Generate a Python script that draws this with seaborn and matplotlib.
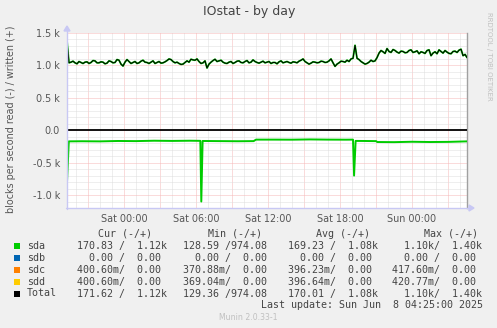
import numpy as np
import pandas as pd
import matplotlib
matplotlib.use("Agg")
import matplotlib.pyplot as plt
import seaborn as sns
from matplotlib.patches import Rectangle, Polygon
from matplotlib.lines import Line2D

# ---------------- data ----------------
# written (+) blocks/s for sda / Total, one sample every 10 min starting Fri 19:15 (hours rel. Sat 00:00)
write_start = -4.75
write_step = 1.0 / 6.0
write_values = [
    1380, 1040, 1050, 1065, 1040, 1025, 1060, 1045, 1030, 1050,
    1055, 1030, 1045, 1075, 1070, 1040, 1040, 1055, 1050, 1025,
    1035, 1070, 1060, 1040, 1045, 1090, 1080, 1020, 990, 1050,
    1090, 1060, 1030, 1045, 1060, 1030, 1040, 1065, 1080, 1050,
    1045, 1030, 1050, 1070, 1030, 1045, 1060, 1035, 1040, 1055,
    1075, 1100, 1090, 1060, 1040, 1050, 1030, 1015, 1020, 1045,
    1070, 1050, 1095, 1085, 1080, 1100, 1060, 1030, 1040, 1070,
    960, 1020, 1050, 1075, 1095, 1060, 1070, 1080, 1050, 1035,
    1030, 1050, 1060, 1030, 1045, 1065, 1070, 1045, 1040, 1060,
    1075, 1040, 1050, 1085, 1060, 1045, 1035, 1050, 1065, 1040,
    1050, 1060, 1030, 1045, 1045, 1025, 1055, 1070, 1040, 1050,
    1060, 1045, 1035, 1055, 1050, 1040, 1065, 1080, 1100, 1060,
    1040, 1020, 1035, 1055, 1050, 1040, 1045, 1065, 1060, 1045,
    1050, 1070, 1100, 1040, 985, 1020, 1040, 1065, 1060, 1050,
    1080, 1060, 1100, 1110, 1310, 1110, 1090, 1060, 1040, 1020,
    1030, 1050, 1080, 1060, 1070, 1120, 1190, 1230, 1210, 1185,
    1260, 1215, 1200, 1245, 1230, 1205, 1190, 1220, 1215, 1195,
    1200, 1230, 1240, 1200, 1210, 1225, 1180, 1210, 1200, 1185,
    1230, 1240, 1150, 1190, 1210, 1180, 1240, 1215, 1190, 1230,
    1205, 1185, 1180, 1215, 1220, 1200, 1235, 1250, 1150, 1170,
    1120,
]
# read (-) blocks/s for sda
read_hours = [-4.75, -4.6, -3.5, -2.0, -0.5, 1.0, 2.5, 4.0, 5.5, 6.36, 6.44, 6.55,
              8.0, 9.5, 10.8, 11.0, 12.5, 14.0, 15.5, 17.0, 18.5, 19.08, 19.17, 19.3,
              20.0, 21.0, 21.1, 22.5, 24.0, 25.5, 27.0, 28.58]
read_values = [-800, -172, -170, -172, -166, -168, -162, -165, -162, -164, -1100, -166,
               -168, -170, -168, -145, -145, -146, -142, -145, -146, -145, -700, -165,
               -166, -168, -182, -184, -178, -182, -180, -172]

xtick_hours = [0, 6, 12, 18, 24]
xtick_labels = ["Sat 00:00", "Sat 06:00", "Sat 12:00", "Sat 18:00", "Sun 00:00"]
ytick_values = [-1000, -500, 0, 500, 1000, 1500]
ytick_labels = ["-1.0 k", "-0.5 k", "0.0", "0.5 k", "1.0 k", "1.5 k"]

legend_names = ["sda", "sdb", "sdc", "sdd", "Total"]
legend_colors = ["#00CC00", "#0066B3", "#FF8000", "#FFCC00", "#000000"]
col_headers = ["Cur (-/+)", "Min (-/+)", "Avg (-/+)", "Max (-/+)"]
col_cur = ["170.83 /  1.12k", "  0.00 /  0.00", "400.60m/  0.00", "400.60m/  0.00", "171.62 /  1.12k"]
col_min = ["128.59 /974.08", "  0.00 /  0.00", "370.88m/  0.00", "369.04m/  0.00", "129.36 /974.08"]
col_avg = ["169.23 /  1.08k", "  0.00 /  0.00", "396.23m/  0.00", "396.64m/  0.00", "170.01 /  1.08k"]
col_max = ["  1.10k/  1.40k", "  0.00 /  0.00", "417.60m/  0.00", "420.77m/  0.00", "  1.10k/  1.40k"]

# ---------------- figure ----------------
W, H = 497, 328
sns.set_style("white")
plt.rcParams['font.family'] = ['DejaVu Sans']

fig = plt.figure(figsize=(W / 100, H / 100), dpi=100, facecolor='#F0F0F0')
L, R, T, B = 67, 467, 33, 208
ax = fig.add_axes([L / W, 1 - B / H, (R - L) / W, (B - T) / H])
ax.set_facecolor('white')

xmin, xmax = -4.75, 28.58
ymin, ymax = -1200, 1500
ax.set_xlim(xmin, xmax)
ax.set_ylim(ymin, ymax)

dot = (0, (1, 1))
for h in range(-4, 29):
    major = (h % 3 == 0)
    ax.axvline(h, color='#F6B8B8' if major else '#DEDEDE', lw=0.72, ls=dot, zorder=0)
for v in range(-1200, 1501, 100):
    major = (v % 500 == 0)
    ax.axhline(v, color='#F6B8B8' if major else '#DEDEDE', lw=0.72, ls=dot, zorder=0)

write_df = pd.DataFrame({
    "hour": write_start + write_step * np.arange(len(write_values)),
    "value": write_values,
})
read_df = pd.DataFrame({"hour": read_hours, "value": read_values})

sns.lineplot(data=read_df, x="hour", y="value", ax=ax, color="#00CC00", lw=1.4,
             estimator=None, sort=False, zorder=3)
sns.lineplot(data=write_df, x="hour", y="value", ax=ax, color="#00CC00", lw=1.3,
             estimator=None, sort=False, zorder=3)
sns.lineplot(data=write_df, x="hour", y="value", ax=ax, color="#000000", lw=0.75,
             estimator=None, sort=False, zorder=4)
ax.axhline(0, color='black', lw=1.3, zorder=5)

ax.set_xlabel("")
ax.set_ylabel("")
ax.set_xticks(xtick_hours)
ax.set_xticklabels(xtick_labels)
ax.set_yticks(ytick_values)
ax.set_yticklabels(ytick_labels)
ax.tick_params(axis='both', length=0, labelsize=6.9, labelcolor='#555555')
ax.tick_params(axis='x', pad=4)
ax.tick_params(axis='y', pad=5)

for s in ['top', 'left', 'bottom']:
    ax.spines[s].set_visible(False)
ax.spines['right'].set_color('#A0A0A0')
ax.spines['right'].set_linewidth(1.0)

# axis lines with arrows (figure pixel coords -> fraction)
def fx(x):
    return x / W
def fy(y):
    return 1 - y / H
axis_col = '#C8C8F4'
fig.add_artist(Line2D([fx(L), fx(L)], [fy(B + 1), fy(30)], color=axis_col, lw=1.0))
fig.add_artist(Line2D([fx(L - 1), fx(470)], [fy(B), fy(B)], color=axis_col, lw=1.0))
fig.add_artist(Polygon([[fx(L - 3), fy(31)], [fx(L + 3), fy(31)], [fx(L), fy(26)]],
                       closed=True, color=axis_col, transform=fig.transFigure))
fig.add_artist(Polygon([[fx(469), fy(B - 3)], [fx(469), fy(B + 3)], [fx(474), fy(B)]],
                       closed=True, color=axis_col, transform=fig.transFigure))

# title and side texts
fig.text(fx(249), fy(12), "IOstat - by day", ha='center', va='center', fontsize=9,
         color='#444444')
fig.text(fx(11), fy(119), "blocks per second read (-) / written (+)", rotation=90,
         ha='center', va='center', fontsize=6.9, color='#555555')
fig.text(fx(489), fy(56), "RRDTOOL / TOBI OETIKER", rotation=270, ha='center',
         va='center', fontsize=5.0, color='#C0C0C0')

# legend table
mono = 'DejaVu Sans Mono'
fs = 7.2
tcol = '#444444'
header_y = 234
fig.text(fx(98), fy(header_y), col_headers[0], family=mono, fontsize=fs, color=tcol, va='center')
fig.text(fx(207.5), fy(header_y), col_headers[1], family=mono, fontsize=fs, color=tcol, va='center')
fig.text(fx(316), fy(header_y), col_headers[2], family=mono, fontsize=fs, color=tcol, va='center')
fig.text(fx(424), fy(header_y), col_headers[3], family=mono, fontsize=fs, color=tcol, va='center')

row_ys = [245.7, 257.7, 269.7, 281.7, 293.5]
for i, name in enumerate(legend_names):
    y = row_ys[i]
    fig.add_artist(Rectangle((fx(14), fy(y + 3)), 6 / W, 6 / H, transform=fig.transFigure,
                             facecolor=legend_colors[i], edgecolor='none'))
    fig.text(fx(27), fy(y), name, family=mono, fontsize=fs, color=tcol, va='center')
    fig.text(fx(77), fy(y), col_cur[i], family=mono, fontsize=fs, color=tcol, va='center')
    fig.text(fx(182.7), fy(y), col_min[i], family=mono, fontsize=fs, color=tcol, va='center')
    fig.text(fx(287.7), fy(y), col_avg[i], family=mono, fontsize=fs, color=tcol, va='center')
    fig.text(fx(392.3), fy(y), col_max[i], family=mono, fontsize=fs, color=tcol, va='center')

fig.text(fx(483), fy(305.5), "Last update: Sun Jun  8 04:25:00 2025", family=mono,
         fontsize=fs, color=tcol, va='center', ha='right')
fig.text(fx(248), fy(317), "Munin 2.0.33-1", fontsize=5.6, color='#C0C0C0',
         ha='center', va='center')

fig.savefig("out.png", dpi=100, facecolor=fig.get_facecolor())
